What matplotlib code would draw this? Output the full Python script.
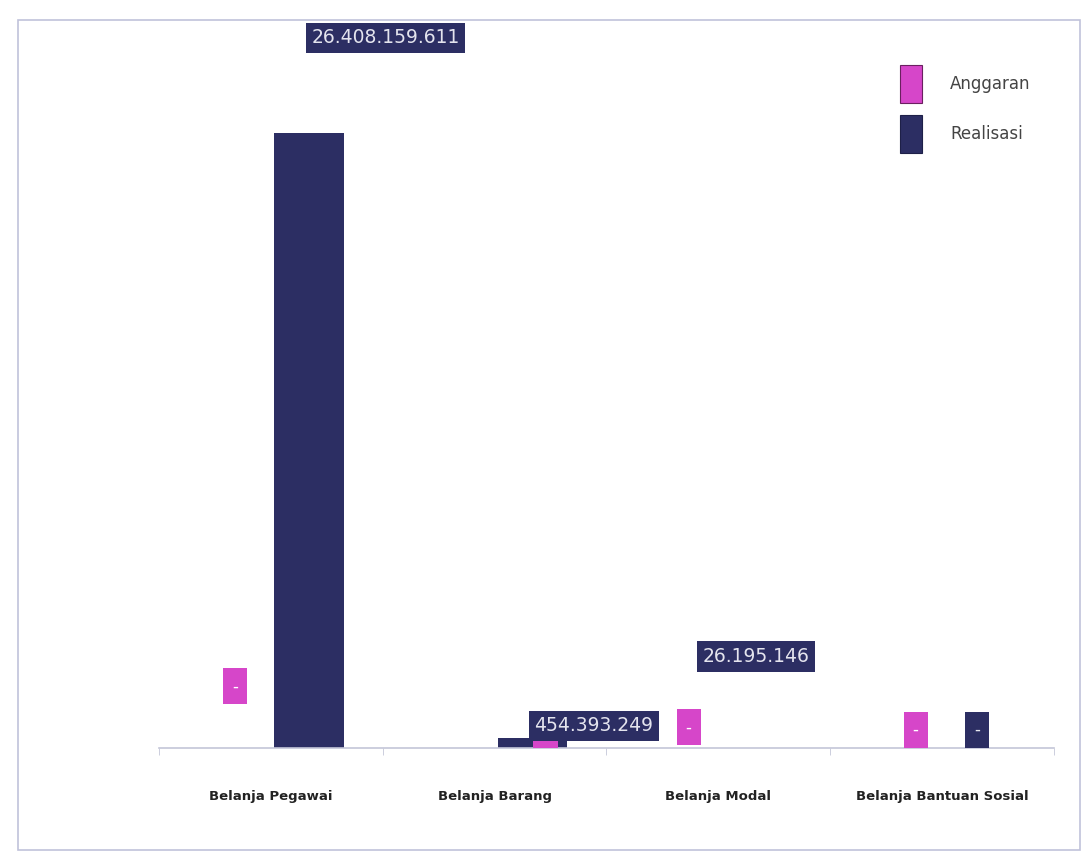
import matplotlib
matplotlib.use('Agg')
import matplotlib.pyplot as plt
from matplotlib.patches import Rectangle, Patch
import numpy as np

categories = ['Belanja Pegawai', 'Belanja Barang', 'Belanja Modal', 'Belanja Bantuan Sosial']
anggaran = [0, 0, 0, 0]
realisasi = [26408159611, 454393249, 26195146, 0]
anggaran_labels = ['-', '-', '-', '-']
realisasi_labels = ['26.408.159.611', '454.393.249', '26.195.146', '-']

MAGENTA = '#d646c9'
NAVY = '#2c2e63'

# label offsets in points (scan placed them oddly)
ang_off = [(1.5, 44.5), (64, 13), (6, 15), (8.5, 13)]
real_off = [(55, 68.5), (44, 8.5), (0, 65.5), (-2, 13)]

fig = plt.figure(figsize=(10.84, 8.55), dpi=100)
ax = fig.add_axes([0.147, 0.125, 0.825, 0.84])

x = np.arange(len(categories))
w = 0.31
ax.bar(x - 0.17, anggaran, w, color=MAGENTA, label='Anggaran')
ax.bar(x + 0.17, realisasi, w, color=NAVY, label='Realisasi')

for i in range(len(categories)):
    ax.annotate(anggaran_labels[i], xy=(x[i] - 0.17, anggaran[i]), xycoords='data',
                xytext=ang_off[i], textcoords='offset points', ha='center', va='center',
                fontsize=12, color='white', zorder=4,
                bbox=dict(boxstyle='square,pad=0.55', fc=MAGENTA, ec='none'))
    if realisasi_labels[i] == '-':
        ax.annotate('-', xy=(x[i] + 0.17, realisasi[i]), xycoords='data',
                    xytext=real_off[i], textcoords='offset points', ha='center', va='center',
                    fontsize=12, color='#e8e8f0', zorder=5,
                    bbox=dict(boxstyle='square,pad=0.55', fc=NAVY, ec='none'))
    else:
        ax.annotate(realisasi_labels[i], xy=(x[i] + 0.17, realisasi[i]), xycoords='data',
                    xytext=real_off[i], textcoords='offset points', ha='center', va='center',
                    fontsize=13.5, color='#e4e4ee', zorder=5,
                    bbox=dict(boxstyle='square,pad=0.3', fc=NAVY, ec='none'))

ax.set_xlim(-0.5, 3.5)
ax.set_ylim(0, 30.83e9)
for s in ['top', 'right', 'left']:
    ax.spines[s].set_visible(False)
ax.spines['bottom'].set_color('#c4c6d8')
ax.spines['bottom'].set_linewidth(1.2)
ax.set_yticks([])
ax.set_xticks(x)
ax.set_xticklabels(categories, fontsize=9.5, fontweight='bold', color='#222222')
ax.set_xticks(np.arange(-0.5, 3.6, 1), minor=True)
ax.tick_params(axis='x', which='major', length=0, pad=30)
ax.tick_params(axis='x', which='minor', length=5, color='#c4c6d8')

handles = [Patch(fc=MAGENTA, ec='#6a2060', lw=0.8), Patch(fc=NAVY, ec='#1e2048', lw=0.8)]
fig.legend(handles, ['Anggaran', 'Realisasi'], loc='upper left',
           bbox_to_anchor=(900 / 1084, 1 - 65 / 855), frameon=False, fontsize=12,
           borderpad=0, borderaxespad=0, handlelength=1.3, handleheight=3.1,
           labelspacing=0.75, handletextpad=1.7, labelcolor='#444444')

# outer chart border
fig.patches.append(Rectangle((0.017, 0.006), 0.979, 0.971, transform=fig.transFigure,
                             fill=False, ec='#c0c2da', lw=1.2))

plt.savefig('out.png', dpi=100)
